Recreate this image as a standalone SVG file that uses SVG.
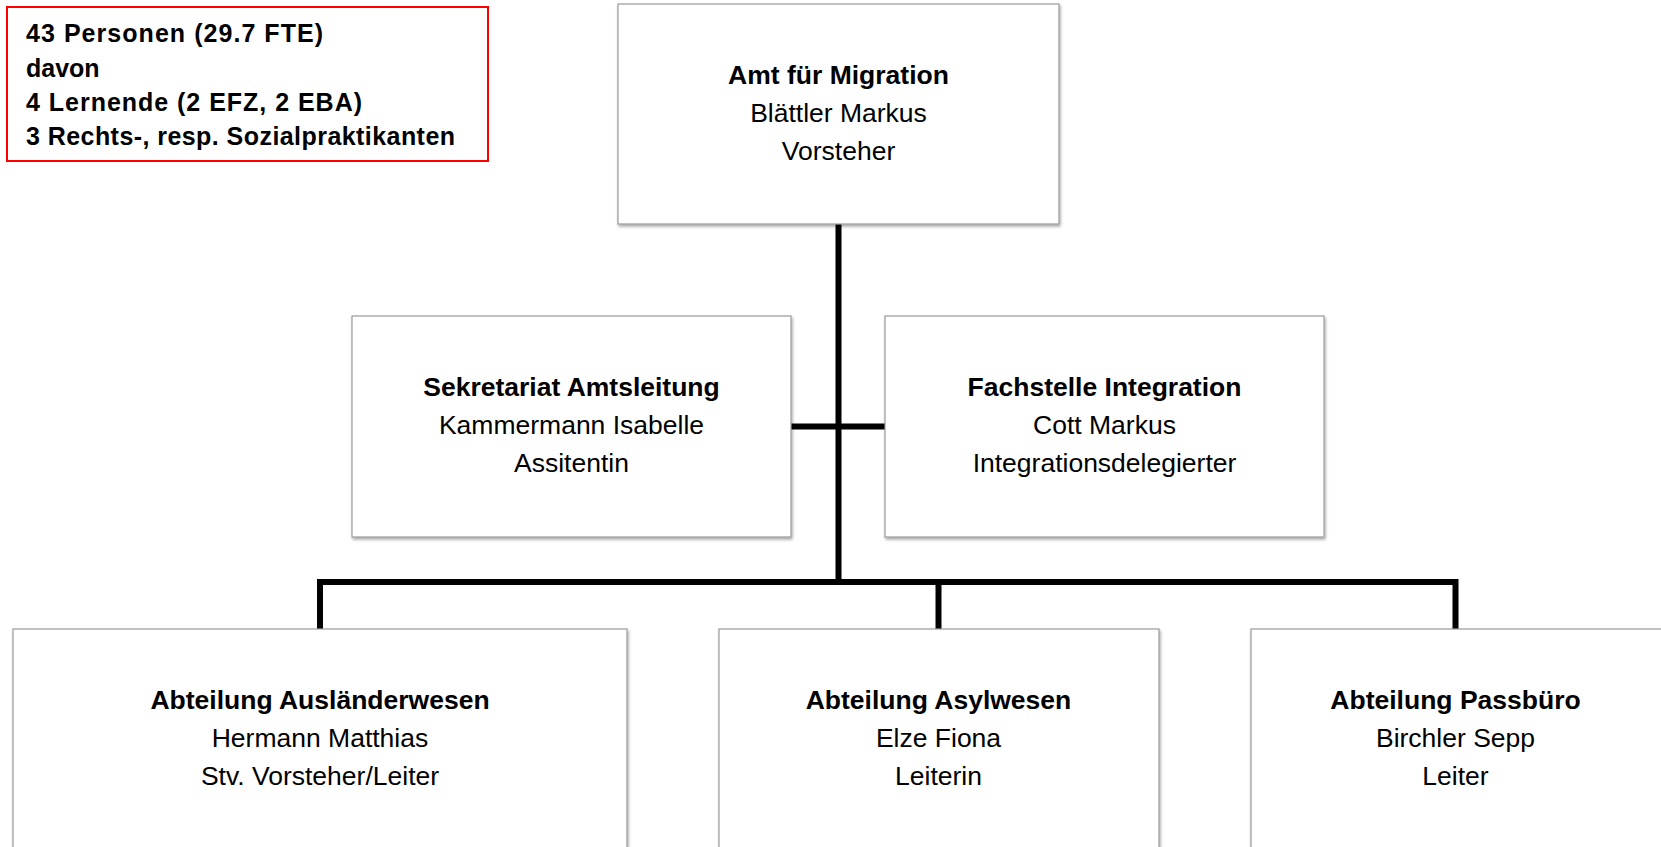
<svg xmlns="http://www.w3.org/2000/svg" width="1661" height="847" viewBox="0 0 1661 847">
<defs>
<filter id="sh" x="-5%" y="-5%" width="110%" height="115%">
<feDropShadow dx="1" dy="2" stdDeviation="1.5" flood-color="#000" flood-opacity="0.35"/>
</filter>
<style>
.box{fill:#fff;stroke:#9a9a9a;stroke-width:1.2;filter:url(#sh)}
.t{font-family:"Liberation Sans",Arial,sans-serif;font-size:26.5px;fill:#000;text-anchor:middle}
.b{font-weight:bold}
.info{font-family:"Liberation Sans",Arial,sans-serif;font-size:25px;font-weight:bold;fill:#000}
.con{fill:none;stroke:#000;stroke-width:6;stroke-linecap:butt;stroke-linejoin:miter}
</style>
</defs>
<rect width="1661" height="847" fill="#fff"/>
<g id="info">
<rect x="7" y="7" width="481" height="154" fill="#fff" stroke="#ff0000" stroke-width="2"/>
<text class="info" x="26" y="42" textLength="297" lengthAdjust="spacing">43 Personen (29.7 FTE)</text>
<text class="info" x="26" y="76.5">davon</text>
<text class="info" x="26" y="111" textLength="336" lengthAdjust="spacing">4 Lernende (2 EFZ, 2 EBA)</text>
<text class="info" x="26" y="145" textLength="429" lengthAdjust="spacing">3 Rechts-, resp. Sozialpraktikanten</text>
</g>
<g id="connectors">
<path class="con" d="M838.5,224 V582"/>
<path class="con" d="M791,426.5 H885"/>
<path class="con" d="M320,629 V582 H1455.5 V629"/>
<path class="con" d="M938.5,582 V629"/>
</g>
<g id="amt">
<rect class="box" x="618" y="4" width="441" height="220"/>
<text class="t b" x="838.5" y="84">Amt für Migration</text>
<text class="t" x="838.5" y="122">Blättler Markus</text>
<text class="t" x="838.5" y="160">Vorsteher</text>
</g>
<g id="sekretariat">
<rect class="box" x="352" y="316" width="439" height="221"/>
<text class="t b" x="571.5" y="396">Sekretariat Amtsleitung</text>
<text class="t" x="571.5" y="434">Kammermann Isabelle</text>
<text class="t" x="571.5" y="472">Assitentin</text>
</g>
<g id="integration">
<rect class="box" x="885" y="316" width="439" height="221"/>
<text class="t b" x="1104.5" y="396">Fachstelle Integration</text>
<text class="t" x="1104.5" y="434">Cott Markus</text>
<text class="t" x="1104.5" y="472">Integrationsdelegierter</text>
</g>
<g id="auslaender">
<rect class="box" x="13" y="629" width="614" height="240"/>
<text class="t b" x="320" y="709">Abteilung Ausländerwesen</text>
<text class="t" x="320" y="747">Hermann Matthias</text>
<text class="t" x="320" y="785">Stv. Vorsteher/Leiter</text>
</g>
<g id="asyl">
<rect class="box" x="719" y="629" width="440" height="240"/>
<text class="t b" x="938.5" y="709">Abteilung Asylwesen</text>
<text class="t" x="938.5" y="747">Elze Fiona</text>
<text class="t" x="938.5" y="785">Leiterin</text>
</g>
<g id="pass">
<rect class="box" x="1251" y="629" width="430" height="240"/>
<text class="t b" x="1455.5" y="709">Abteilung Passbüro</text>
<text class="t" x="1455.5" y="747">Birchler Sepp</text>
<text class="t" x="1455.5" y="785">Leiter</text>
</g>
</svg>
